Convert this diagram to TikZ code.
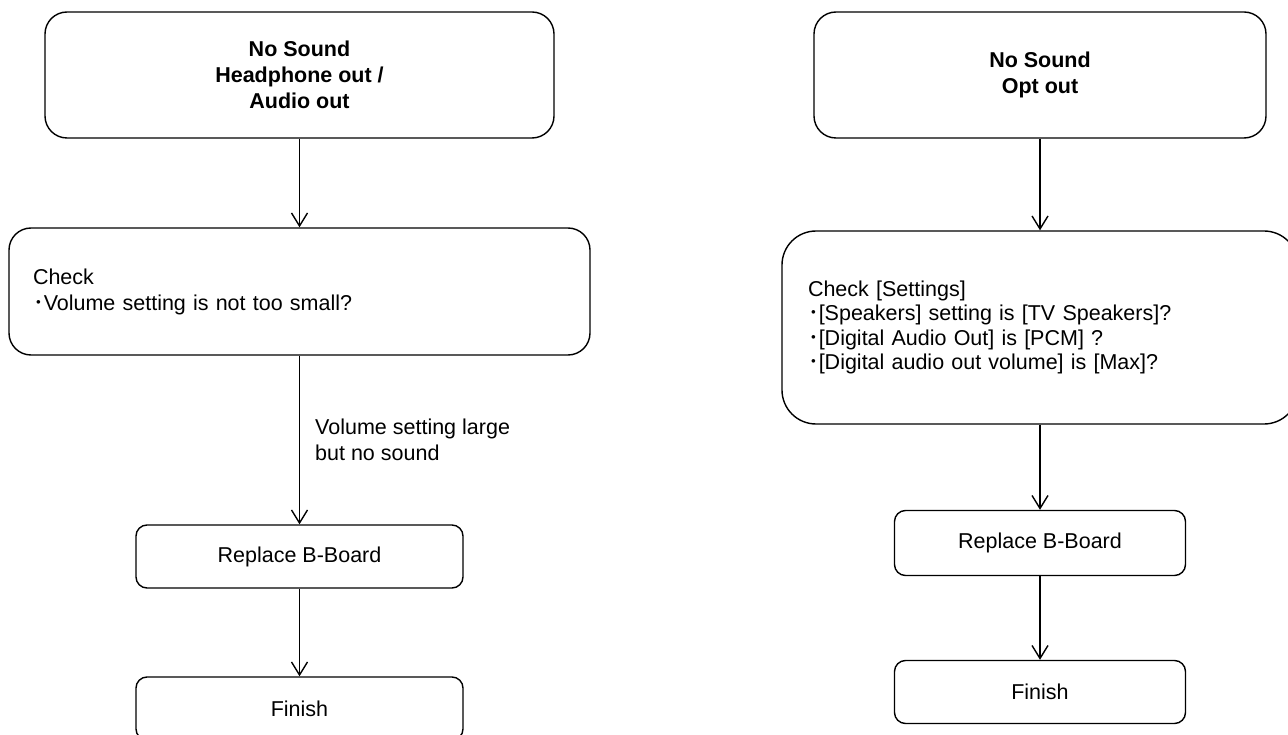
\documentclass[tikz,border=0pt]{standalone}
\usepackage{fontspec}
\setmainfont{Liberation Sans}
\newfontfamily\cjk{Noto Sans CJK JP}
\usetikzlibrary{arrows.meta}
\tikzset{
  basebox/.style={draw, line width=1.4pt, inner sep=0pt, font=\fontsize{21.5}{26}\selectfont},
  titlebox/.style={basebox, rounded corners=22pt, align=center, font=\fontsize{21.5}{26}\selectfont\bfseries},
  checkbox/.style={basebox, rounded corners=22pt, align=left},
  bigcheck/.style={basebox, rounded corners=34pt, align=left, font=\fontsize{21.5}{24.5}\selectfont},
  smallbox/.style={basebox, rounded corners=11pt, align=center},
  lbl/.style={inner sep=0pt, align=left, font=\fontsize{21.5}{26}\selectfont},
  arr/.style={line width=1.4pt, -{Straight Barb[length=13pt,width=16pt,line width=1.4pt]}}
}
\newcommand{\bul}{{\cjk ･}}
\begin{document}
\begin{tikzpicture}[x=1pt,y=-1pt]
\useasboundingbox (0,0) rectangle (1288,735);
\clip (0,0) rectangle (1288,735);
\fill[white] (0,0) rectangle (1288,735);
% left column
\node[titlebox, minimum width=509pt, minimum height=126pt] (lt) at (299.5,75) {No Sound\\Headphone out /\\Audio out};
\node[checkbox, minimum width=581pt, minimum height=127pt, text width=533pt, inner xsep=24pt] (lc) at (299.5,291.5) {Check\\\bul Volume setting is not too small?};
\node[smallbox, minimum width=327pt, minimum height=63pt] (lr) at (299.5,556.5) {Replace B-Board};
\node[smallbox, minimum width=327pt, minimum height=63pt] (lf) at (299.5,708.5) {Finish};
\node[lbl, anchor=west] (ll) at (315,440) {Volume setting large\\but no sound};
\draw[arr] (lt.south) -- (lc.north);
\draw[arr] (lc.south) -- (lr.north);
\draw[arr] (lr.south) -- (lf.north);
% right column
\node[titlebox, minimum width=452pt, minimum height=126pt] (rt) at (1040,75) {No Sound\\Opt out};
\node[bigcheck, minimum width=516pt, minimum height=193pt, text width=464pt, inner xsep=26pt] (rc) at (1040,327.5) {Check [Settings]\\\bul[Speakers] setting is [TV Speakers]?\\\bul[Digital Audio Out] is [PCM] ?\\\bul[Digital audio out volume] is [Max]?};
\node[smallbox, minimum width=291pt, minimum height=65pt] (rr) at (1040,543) {Replace B-Board};
\node[smallbox, minimum width=291pt, minimum height=63pt] (rf) at (1040,692) {Finish};
\draw[arr] (rt.south) -- (rc.north);
\draw[arr] (rc.south) -- (rr.north);
\draw[arr] (rr.south) -- (rf.north);
\end{tikzpicture}
\end{document}
